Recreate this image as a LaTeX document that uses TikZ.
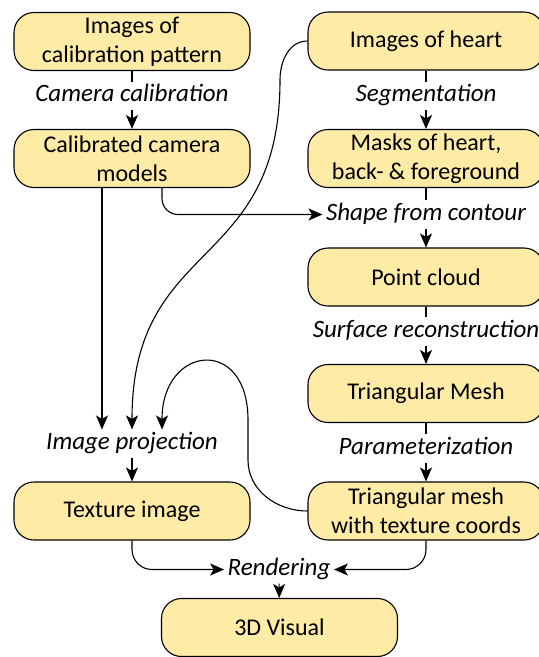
\documentclass[tikz,border=0pt]{standalone}
\usepackage{fontspec}
\setmainfont{Carlito}
\usetikzlibrary{arrows.meta}
\definecolor{boxfill}{RGB}{253,235,166}

\begin{document}
\begin{tikzpicture}[x=1pt,y=1pt,line width=1.1pt]
 \tikzset{box/.style = {shape=rectangle,draw,fill=boxfill,rounded corners=20pt,minimum width=236pt,minimum height=58pt,inner sep=2pt,align=center,font=\fontsize{24}{29}\selectfont}}
 \tikzset{lbl/.style = {inner sep=3pt,text height=16pt,text depth=5pt,font=\itshape\fontsize{25}{29}\selectfont}}
 \tikzset{edge/.style = {->,> = {Stealth[length=14pt,width=12pt,inset=3.5pt]}}}
 \useasboundingbox (0,0) rectangle (539,-657);
 % boxes
 \node[box] (calib) at (132,-41.5) {Images of\\calibration pattern};
 \node[box] (cams) at (132,-158.5) {Calibrated camera\\models};
 \node[box] (teximg) at (132,-511) {Texture image};
 \node[box] (visual) at (279.5,-627.5) {3D Visual};
 \node[box] (heart) at (426,-41) {Images of heart};
 \node[box] (masks) at (426,-158.5) {Masks of heart,\\back- \& foreground};
 \node[box] (cloud) at (426,-277) {Point cloud};
 \node[box] (mesh) at (426,-393.5) {Triangular Mesh};
 \node[box] (texmesh) at (426,-511) {Triangular mesh\\with texture coords};

 % steps
 \node[lbl] (camcal) at (132,-96) {Camera calibration};
 \node[lbl] (seg) at (426,-96) {Segmentation};
 \node[lbl] (sfc) at (426,-214.5) {Shape from contour};
 \node[lbl] (surf) at (426,-331.5) {Surface reconstruction};
 \node[lbl] (param) at (426,-448.5) {Parameterization};
 \node[lbl] (proj) at (132,-443.5) {Image projection};
 \node[lbl] (render) at (279,-569.5) {Rendering};

 \coordinate (hbend) at (280,-80);
 \coordinate (tlow) at (248,-460);
 \coordinate (thigh) at (248,-420);

 %edges
 \draw (calib) -- (camcal);
 \draw[edge] (camcal) -- (cams);
 \draw (heart) -- (seg);
 \draw[edge] (seg) -- (masks);
 \draw (masks) -- (sfc);
 \draw[edge] (sfc) -- (cloud);
 \draw (cloud) -- (surf);
 \draw[edge] (surf) -- (mesh);
 \draw (mesh) -- (param);
 \draw[edge] (param) -- (texmesh);
 \draw[edge] (proj) -- (teximg);
 \draw[edge] (render) -- (visual);
 \draw[edge,rounded corners=16pt] ([xshift=30pt]cams.south) |- (sfc);
 \draw[edge] ([xshift=-30pt]cams.south) -- ([xshift=-30pt]proj.north);
 \draw[edge] (heart.west) to[out=180,in=90] (hbend) to[out=-90,in=90,looseness=1.3] (proj.north);
 \draw[edge] (texmesh.west) to[out=180,in=-90] (tlow) -- (thigh) to[out=90,in=90,looseness=2.5] ([xshift=30pt]proj.north);
 \draw[edge,rounded corners=20pt] (teximg) |- (render);
 \draw[edge,rounded corners=20pt] (texmesh) |- (render);
\end{tikzpicture}
\end{document}
